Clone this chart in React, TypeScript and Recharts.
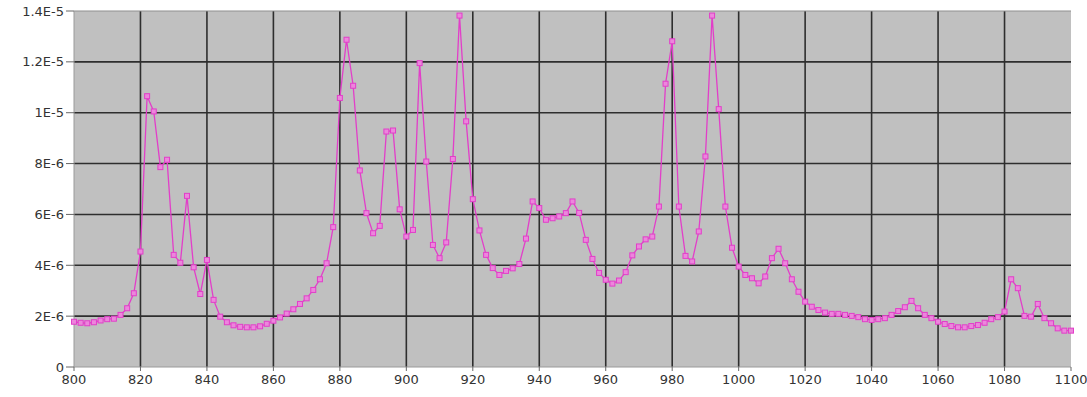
import { CartesianGrid, Line, LineChart, ReferenceLine, XAxis, YAxis } from "recharts";

// wavelength (x) and intensity in units of 1E-6 (y), one point every 2 units
const wavelengths = [
  800, 802, 804, 806, 808, 810, 812, 814, 816, 818,
  820, 822, 824, 826, 828, 830, 832, 834, 836, 838,
  840, 842, 844, 846, 848, 850, 852, 854, 856, 858,
  860, 862, 864, 866, 868, 870, 872, 874, 876, 878,
  880, 882, 884, 886, 888, 890, 892, 894, 896, 898,
  900, 902, 904, 906, 908, 910, 912, 914, 916, 918,
  920, 922, 924, 926, 928, 930, 932, 934, 936, 938,
  940, 942, 944, 946, 948, 950, 952, 954, 956, 958,
  960, 962, 964, 966, 968, 970, 972, 974, 976, 978,
  980, 982, 984, 986, 988, 990, 992, 994, 996, 998,
  1000, 1002, 1004, 1006, 1008, 1010, 1012, 1014, 1016, 1018,
  1020, 1022, 1024, 1026, 1028, 1030, 1032, 1034, 1036, 1038,
  1040, 1042, 1044, 1046, 1048, 1050, 1052, 1054, 1056, 1058,
  1060, 1062, 1064, 1066, 1068, 1070, 1072, 1074, 1076, 1078,
  1080, 1082, 1084, 1086, 1088, 1090, 1092, 1094, 1096, 1098,
  1100,
];

const intensities = [
  1.78, 1.74, 1.72, 1.76, 1.83, 1.88, 1.9, 2.05, 2.31, 2.9,
  4.54, 10.65, 10.05, 7.86, 8.15, 4.41, 4.1, 6.73, 3.92, 2.87,
  4.21, 2.64, 1.98, 1.76, 1.64, 1.58, 1.56, 1.56, 1.6, 1.7,
  1.82, 1.95, 2.1, 2.27, 2.48, 2.7, 3.03, 3.45, 4.08, 5.5,
  10.58, 12.87, 11.06, 7.73, 6.05, 5.26, 5.55, 9.26, 9.3, 6.2,
  5.13, 5.39, 11.95, 8.08, 4.8, 4.28, 4.9, 8.18, 13.82, 9.66,
  6.6, 5.37, 4.41, 3.89, 3.62, 3.78, 3.88, 4.05, 5.05, 6.51,
  6.25, 5.79, 5.85, 5.92, 6.05, 6.51, 6.06, 5.0, 4.25, 3.7,
  3.43, 3.28, 3.4, 3.73, 4.39, 4.74, 5.02, 5.13, 6.31, 11.14,
  12.81, 6.31, 4.37, 4.15, 5.33, 8.28, 13.82, 10.14, 6.31, 4.69,
  3.95, 3.62, 3.49, 3.29, 3.56, 4.28, 4.65, 4.08, 3.45, 2.96,
  2.57, 2.37, 2.24, 2.14, 2.09, 2.09, 2.05, 2.01, 1.96, 1.88,
  1.85, 1.88, 1.92, 2.05, 2.2, 2.35, 2.6, 2.31, 2.05, 1.92,
  1.78, 1.69, 1.61, 1.56, 1.56, 1.61, 1.65, 1.74, 1.88, 1.96,
  2.18, 3.45, 3.1, 2.01, 1.98, 2.48, 1.92, 1.72, 1.52, 1.43,
  1.43,
];

const xTicks = [800, 820, 840, 860, 880, 900, 920, 940, 960, 980, 1000, 1020, 1040, 1060, 1080, 1100];
const yTicks = [0, 2, 4, 6, 8, 10, 12, 14];
const yTickLabels = ["0", "2E-6", "4E-6", "6E-6", "8E-6", "1E-5", "1.2E-5", "1.4E-5"];

const data = wavelengths.map((x, i) => ({ x, y: intensities[i] }));

const LINE = "#e23ec9";

function SquareDot(props: any) {
  const { cx, cy, index } = props;
  if (cx == null || cy == null) return null;
  return (
    <rect
      key={index}
      x={cx - 2.5}
      y={cy - 2.5}
      width={5}
      height={5}
      fill="#ec86dc"
      stroke={LINE}
      strokeWidth={1}
    />
  );
}

const tickStyle = { fontFamily: "'DejaVu Sans', sans-serif", fontSize: 13, fill: "#333" };

export default function App() {
  return (
    <div style={{ position: "absolute", left: 0, top: 0, background: "#fff" }}>
      <LineChart width={1087} height={397} data={data} margin={{ top: 11, right: 16, bottom: 0, left: 0 }}>
        <CartesianGrid
          fill="#c0c0c0"
          stroke="#2e2e2e"
          strokeWidth={1.6}
          verticalValues={xTicks.slice(1, -1)}
          horizontalValues={yTicks.slice(1, -1)}
        />
        <ReferenceLine y={14} stroke="#8f8f8f" strokeWidth={1} />
        <XAxis
          dataKey="x"
          type="number"
          domain={[800, 1100]}
          ticks={xTicks}
          interval={0}
          height={30}
          tick={tickStyle}
          tickSize={4}
          tickMargin={4}
          axisLine={{ stroke: "#9a9a9a" }}
          tickLine={{ stroke: "#666" }}
        />
        <YAxis
          type="number"
          domain={[0, 14]}
          ticks={yTicks}
          interval={0}
          width={74}
          tick={tickStyle}
          tickSize={8}
          tickMargin={2}
          tickFormatter={(v: number) => yTickLabels[yTicks.indexOf(v)] ?? String(v)}
          axisLine={{ stroke: "#9a9a9a" }}
          tickLine={{ stroke: "#666" }}
        />
        <Line
          dataKey="y"
          type="linear"
          stroke={LINE}
          strokeWidth={1.3}
          dot={<SquareDot />}
          activeDot={false}
          isAnimationActive={false}
        />
      </LineChart>
    </div>
  );
}
